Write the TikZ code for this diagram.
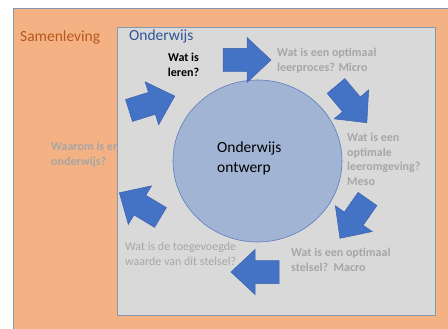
\documentclass[tikz,border=0pt]{standalone}
\usepackage{fontspec}
\setmainfont{Carlito}
\usetikzlibrary{shapes.geometric}

\definecolor{societyfill}{HTML}{F4B183}
\definecolor{schoolfill}{HTML}{D9D9D9}
\definecolor{frameline}{HTML}{8497B0}
\definecolor{designfill}{HTML}{A2B4D4}
\definecolor{designline}{HTML}{5B7DBB}
\definecolor{arrowblue}{HTML}{4472C4}
\definecolor{arrowedge}{HTML}{3A62AD}
\definecolor{societytext}{HTML}{B5581C}
\definecolor{schooltext}{HTML}{2F5597}
\definecolor{labelgray}{HTML}{A6A6A6}

\tikzset{
  blockarrow/.style={fill=arrowblue, draw=arrowedge, line width=0.5pt, line join=miter},
  heading/.style={anchor=base west, inner sep=0pt, font=\fontsize{15.5}{20}\selectfont},
  graylabel/.style={anchor=base west, inner sep=0pt, text=labelgray,
    font=\fontsize{12}{14.6}\selectfont\bfseries},
  plainlabel/.style={anchor=base west, inner sep=0pt, text=labelgray,
    font=\fontsize{12}{14.6}\selectfont},
}

% block arrow: tail centre (#1,#2), direction #3 degrees
\newcommand\BlockArrow[3]{%
  \path[blockarrow, shift={(#1,#2)}, rotate=#3]
    (0,-11.5) -- (24,-11.5) -- (24,-22.5) -- (48,0) -- (24,22.5) -- (24,11.5) -- (0,11.5) -- cycle;}

\newcommand\Lines[1]{\begin{tabular}[t]{@{}l@{}}#1\end{tabular}}

\begin{document}
\begin{tikzpicture}[x=1pt, y=-1pt]
  \useasboundingbox (0,0) rectangle (448,329);
  \fill[white] (0,0) rectangle (448,329);
  \clip (0,0) rectangle (448,329);

  % society frame
  \draw[fill=societyfill, draw=frameline, line width=0.8pt] (13,8) rectangle (470,350);
  \node[heading, text=societytext] (society) at (20,41.5) {Samenleving};
  \node[graylabel] (why) at (51,150.5) {\Lines{Waarom is er\\onderwijs?}};

  % education frame
  \draw[fill=schoolfill, draw=frameline, line width=0.8pt] (117,27) rectangle (435,315);
  \node[heading, text=schooltext] (school) at (129,40.5) {Onderwijs};

  % central design
  \node[ellipse, draw=designline, fill=designfill, line width=0.6pt,
        minimum width=169pt, minimum height=162pt, inner sep=0pt] (design) at (257.5,161) {};
  \node[heading] (designtext) at (217,152.5) {\Lines{Onderwijs\\ontwerp}};

  % questions around the cycle
  \node[anchor=base, inner sep=0pt, font=\fontsize{12}{14.6}\selectfont\bfseries] (learn) at (183.5,61.5)
    {\begin{tabular}[t]{@{}c@{}}Wat is\\leren?\end{tabular}};
  \node[graylabel] (micro) at (277,56.5) {\Lines{Wat is een optimaal\\leerproces? Micro}};
  \node[graylabel] (meso) at (347,141.5) {\Lines{Wat is een\\optimale\\leeromgeving?\\Meso}};
  \node[graylabel] (macro) at (291,256.5) {\Lines{Wat is een optimaal\\stelsel?\ \ Macro}};
  \node[plainlabel] (value) at (125,250.5) {\Lines{Wat is de toegevoegde\\waarde van dit stelsel?}};

  % cycle arrows
  \BlockArrow{129}{110.5}{17.5}
  \BlockArrow{223}{60}{0}
  \BlockArrow{336}{86}{-50}
  \BlockArrow{367.5}{199}{-125}
  \BlockArrow{279}{272}{180}
  \BlockArrow{160.5}{217.5}{149}
\end{tikzpicture}
\end{document}
